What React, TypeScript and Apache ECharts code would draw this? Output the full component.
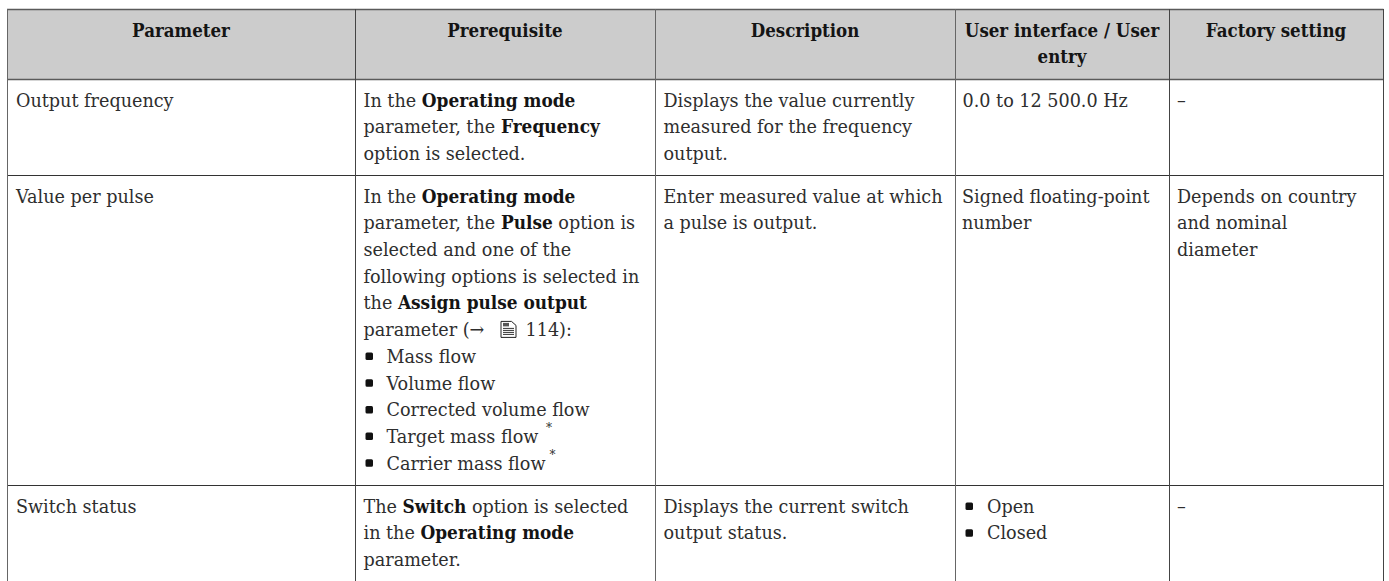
import React, { useEffect, useRef } from "react";
import * as echarts from "echarts";

const headers: string[][] = [
  ["Parameter"],
  ["Prerequisite"],
  ["Description"],
  ["User interface / User", "entry"],
  ["Factory setting"],
];
const parameterCol: string[][] = [["Output frequency"], ["Value per pulse"], ["Switch status"]];
const prerequisiteCol: string[][] = [
  ["In the {b|Operating mode}", "parameter, the {b|Frequency}", "option is selected."],
  [
    "In the {b|Operating mode}",
    "parameter, the {b|Pulse} option is",
    "selected and one of the",
    "following options is selected in",
    "the {b|Assign pulse output}",
    "parameter (→",
  ],
  ["The {b|Switch} option is selected", "in the {b|Operating mode}", "parameter."],
];
const pageRef = "114):";
const pulseOptions: string[] = ["Mass flow", "Volume flow", "Corrected volume flow", "Target mass flow", "Carrier mass flow"];
const descriptionCol: string[][] = [
  ["Displays the value currently", "measured for the frequency", "output."],
  ["Enter measured value at which", "a pulse is output."],
  ["Displays the current switch", "output status."],
];
const userEntryCol: string[][] = [["0.0 to 12 500.0 Hz"], ["Signed floating-point", "number"], []];
const switchOptions: string[] = ["Open", "Closed"];
const factoryCol: string[][] = [["–"], ["Depends on country", "and nominal", "diameter"], ["–"]];

const COL_X = [7, 355, 655, 955, 1169, 1383];
const TEXT_X = [16, 363.5, 663.5, 962.5, 1177];
const ROW_Y = [9, 79, 175, 485];
const FIRST_LINE = [100, 196, 506];
const PITCH = 26.68;
const FONT = "'DejaVu Serif'";
const SIZE = 19;
const SX = 0.927;
const SX_HEAD = 0.878;
const INK = "#2e2e2e";
const INK_BOLD = "#141414";

function txt(s: string, x: number, y: number, bold = false, align = "left", sx = SX, size = SIZE): any {
  return {
    type: "text",
    x,
    y,
    scaleX: sx,
    silent: true,
    style: {
      text: s,
      fill: bold ? INK_BOLD : INK,
      fontFamily: FONT,
      fontSize: size,
      fontWeight: bold ? "bold" : "normal",
      textAlign: align,
      textVerticalAlign: "middle",
      verticalAlign: "middle",
      rich: {
        b: { fontFamily: FONT, fontSize: 18.3, fontWeight: "bold", fill: INK_BOLD, color: INK_BOLD },
      },
    },
  };
}

function bullet(x: number, y: number): any {
  return { type: "rect", silent: true, shape: { x, y: y - 3.5, width: 7.5, height: 7.5, r: 1.5 }, style: { fill: "#111" } };
}

function rule(x1: number, y1: number, x2: number, y2: number, stroke: string, w = 1): any {
  return { type: "line", silent: true, shape: { x1, y1, x2, y2 }, style: { stroke, lineWidth: w } };
}

function docIcon(x: number, y: number): any {
  const s = { stroke: "#222", lineWidth: 1, fill: "none" };
  const ln = (a: number, b: number, c: number) => rule(x + a, y + c, x + b, y + c, "#333", 1);
  return {
    type: "group",
    silent: true,
    children: [
      { type: "polygon", shape: { points: [[x + 0.5, y + 0.5], [x + 11, y + 0.5], [x + 15.5, y + 4.5], [x + 15.5, y + 16.5], [x + 0.5, y + 16.5]] }, style: s },
      { type: "rect", shape: { x: x + 2.5, y: y + 2, width: 6, height: 3.5 }, style: { fill: "#555" } },
      ln(2.5, 13.5, 7.5),
      ln(2.5, 13.5, 9.5),
      ln(2.5, 13.5, 11.5),
      ln(2.5, 13.5, 13.5),
    ],
  };
}

export default function App() {
  const ref = useRef<HTMLDivElement>(null);
  useEffect(() => {
    document.body.style.margin = "0";
    document.body.style.background = "#fff";
    const chart = echarts.init(ref.current!, undefined, { renderer: "svg" });
    const els: any[] = [];
    els.push({ type: "rect", silent: true, shape: { x: COL_X[0], y: ROW_Y[0], width: COL_X[5] - COL_X[0], height: ROW_Y[1] - ROW_Y[0] }, style: { fill: "#cccccc" } });

    ROW_Y.forEach((y, i) => {
      els.push(rule(COL_X[0], y + 0.5, COL_X[5] + 0.5, y + 0.5, i < 2 ? "#5a5a5a" : "#333", i < 2 ? 1.5 : 1));
    });
    COL_X.forEach((x, i) => els.push(rule(x + 0.5, ROW_Y[0], x + 0.5, 581, i === 0 || i === 2 || i === 3 ? "#666" : "#444")));

    headers.forEach((lines, c) => {
      const cx = (COL_X[c] + COL_X[c + 1]) / 2;
      lines.forEach((l, i) => els.push(txt(l, cx, 30 + i * 26, true, "center", SX_HEAD)));
    });
    [parameterCol, prerequisiteCol, descriptionCol, userEntryCol, factoryCol].forEach((col, c) => {
      col.forEach((lines, r) => {
        lines.forEach((l, i) => els.push(txt(l, TEXT_X[c] + (c === 3 && r === 1 ? -0.5 : 0), FIRST_LINE[r] + i * PITCH, false)));
      });
    });

    const y0 = FIRST_LINE[1] + 5 * PITCH;
    els.push(docIcon(500.5, y0 - 8.5));
    els.push(txt(pageRef, 525.5, y0));
    pulseOptions.forEach((o, i) => {
      const y = y0 + (i + 1) * PITCH;
      els.push(bullet(365.5, y));
      els.push(txt(o, 386.5, y));
    });
    els.push(txt("*", 549, FIRST_LINE[1] + 9 * PITCH - 8, false, "center", 1, 12));
    els.push(txt("*", 552.5, FIRST_LINE[1] + 10 * PITCH - 8, false, "center", 1, 12));
    switchOptions.forEach((o, i) => {
      const y = FIRST_LINE[2] + i * PITCH;
      els.push(bullet(965.5, y));
      els.push(txt(o, 987, y));
    });

    chart.setOption({ animation: false, backgroundColor: "#fff", graphic: { elements: els } });
    return () => chart.dispose();
  }, []);
  return <div ref={ref} style={{ width: 1389, height: 581 }} />;
}
